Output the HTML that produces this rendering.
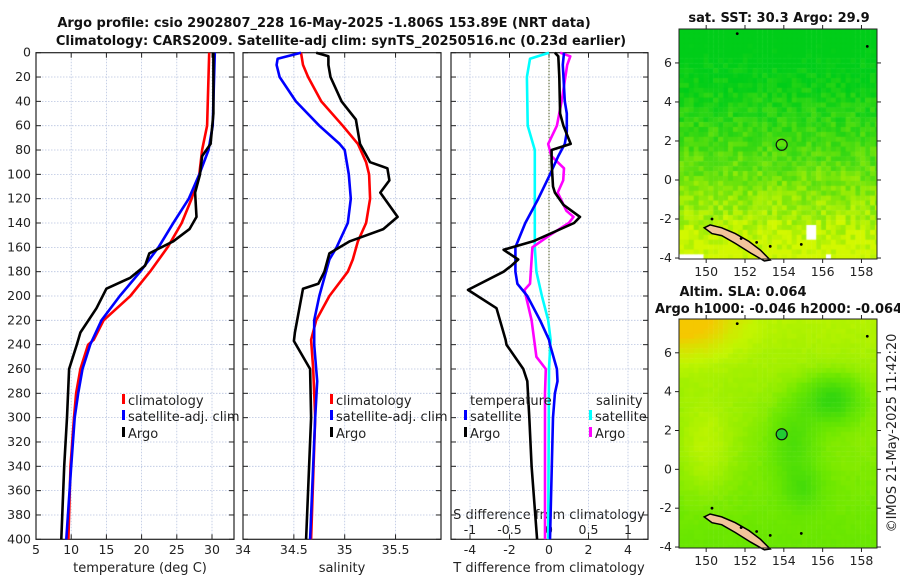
<!DOCTYPE html>
<html><head><meta charset="utf-8">
<style>
html,body{margin:0;padding:0;background:#fff;}
#wrap{position:relative;width:900px;height:580px;overflow:hidden;font-family:"DejaVu Sans","Liberation Sans",sans-serif;}
canvas{position:absolute;}
svg{position:absolute;left:0;top:0;}
text{font-family:"DejaVu Sans","Liberation Sans",sans-serif;font-size:12.5px;fill:#222;}
.b{font-weight:bold;font-size:13px;fill:#111;}
</style></head>
<body>
<div id="wrap">
<canvas id="sst" width="198" height="230" style="left:679px;top:29px"></canvas>
<canvas id="sla" width="198" height="229" style="left:679px;top:319px"></canvas>
<svg id="svg" width="900" height="580" xmlns="http://www.w3.org/2000/svg">
<text class="b" x="324" y="27" text-anchor="middle">Argo profile: csio 2902807_228 16-May-2025 -1.806S 153.89E (NRT data)</text>
<text class="b" x="341" y="45" text-anchor="middle">Climatology: CARS2009. Satellite-adj clim: synTS_20250516.nc (0.23d earlier)</text>
<text class="b" x="779" y="22" text-anchor="middle">sat. SST: 30.3 Argo: 29.9</text>
<text class="b" x="743" y="296" text-anchor="middle">Altim. SLA: 0.064</text>
<text class="b" x="655" y="313">Argo h1000: -0.046 h2000: -0.064</text>
<text x="0" y="0" transform="translate(896,433) rotate(-90)" text-anchor="middle" style="font-size:13px">©IMOS 21-May-2025 11:42:20</text>
<text x="140" y="572" text-anchor="middle" style="font-size:13px">temperature (deg C)</text>
<text x="342" y="572" text-anchor="middle" style="font-size:13px">salinity</text>
<text x="549" y="572" text-anchor="middle" style="font-size:13px">T difference from climatology</text>
<text x="549" y="519" text-anchor="middle" style="font-size:13px">S difference from climatology</text>
</svg>
</div>
<script>
// ---------- data ----------
const depthTicks=[0,20,40,60,80,100,120,140,160,180,200,220,240,260,280,300,320,340,360,380,400];
const tTicks=[5,10,15,20,25,30];
const sTicks=[34,34.5,35,35.5];
const dTicks=[-4,-2,0,2,4];
const sdTicks=[-1,-0.5,0,0.5,1];
const latTicks=[6,4,2,0,-2,-4];
const lonTicks=[150,152,154,156,158];

const climTDepth=[0,60,80,100,120,140,160,180,200,220,236,240,260,280,300,340,400];
const climT=[29.6,29.3,28.6,28.2,27.1,25.7,23.7,21.2,18.4,14.6,13.2,12.4,11.3,10.7,10.4,9.9,9.6];
const satTDepth=[0,60,80,100,120,140,160,180,200,220,240,260,280,300,340,400];
const satT=[30.4,30.1,29.5,28.2,26.7,24.5,22.4,19.8,16.9,14.3,12.7,11.6,11.0,10.5,10.0,9.3];
const argoTDepth=[0,50,75,85,100,115,135,145,155,165,175,185,194,210,230,240,260,300,340,400];
const argoT=[30.2,30.2,29.8,28.6,28.3,27.6,27.8,26.8,24.5,21.1,20.5,18.4,15.0,13.6,11.3,10.8,9.7,9.4,9.0,8.6];

const climSDepth=[0,10,20,40,60,75,90,100,120,140,155,170,180,200,220,236,260,300,400];
const climS=[34.57,34.59,34.64,34.77,34.98,35.13,35.21,35.24,35.25,35.21,35.13,35.08,35.03,34.85,34.72,34.67,34.69,34.71,34.67];
const satSDepth=[0,5,10,20,40,60,75,80,100,120,140,160,170,200,220,240,270,300,400];
const satS=[34.57,34.34,34.33,34.36,34.52,34.75,34.95,35.0,35.04,35.06,35.03,34.92,34.85,34.75,34.70,34.70,34.73,34.71,34.66];
const argoSDepth=[0,3,10,20,40,55,75,90,95,105,115,135,145,155,165,180,190,194,230,237,260,300,400];
const argoS=[34.72,34.84,34.84,34.86,34.97,35.11,35.15,35.25,35.42,35.44,35.35,35.52,35.38,35.05,34.85,34.80,34.74,34.59,34.51,34.50,34.66,34.67,34.62];

const satSdDepth=[0,5,20,60,80,100,160,180,200,220,236,260,400];
const satSd=[0,-0.24,-0.28,-0.27,-0.18,-0.18,-0.18,-0.16,-0.09,-0.01,0.02,0.0,-0.01];
const argoSdDepth=[0,3,10,40,60,75,85,95,105,115,130,135,140,150,160,170,190,195,220,240,250,260,280,400];
const argoSd=[0.14,0.27,0.23,0.16,0.10,-0.01,0.03,0.19,0.18,0.11,0.22,0.31,0.25,0.01,-0.21,-0.22,-0.24,-0.31,-0.22,-0.18,-0.16,-0.04,-0.05,-0.05];
const satTdDepth=[0,10,40,50,65,75,85,100,120,140,160,180,190,200,220,236,240,260,270,280,300,400];
const satTd=[0.76,0.7,0.8,0.9,0.9,0.8,0.47,0.05,-0.54,-1.2,-1.7,-1.7,-1.6,-1.1,-0.45,0,0.05,0.4,0.43,0.3,0.2,0.05];
const argoTdDepth=[0,3,20,50,60,75,80,90,110,115,125,135,140,155,162,170,175,180,195,210,236,240,260,270,300,340,400];
const argoTd=[0.3,0.47,0.52,0.56,0.73,1.1,0.13,0.13,0.2,0.3,0.73,1.57,1.27,-0.8,-2.3,-1.56,-1.9,-2.3,-4.1,-2.66,-2.2,-2.15,-1.3,-1.1,-1.0,-0.88,-0.6];

const argoLon=[153.89], argoLat=[1.806];
const islandLon=[149.9,150.2,150.8,151.5,152.2,152.8,153.3,153.0,152.3,151.5,150.8,150.3,149.9];
const islandLat=[-2.45,-2.3,-2.45,-2.75,-3.15,-3.6,-4.1,-4.15,-3.75,-3.25,-2.85,-2.75,-2.45];

// ---------- helpers ----------
const NS="http://www.w3.org/2000/svg";
const svg=document.getElementById('svg');
function el(tag,attrs,parent){const e=document.createElementNS(NS,tag);for(const k in attrs)e.setAttribute(k,attrs[k]);(parent||svg).appendChild(e);return e;}
const Y0=52.7,Y1=539.3;
const yD=d=>Y0+(Y1-Y0)*d/400;
function mkX(a,b,px0,px1){return v=>px0+(v-a)/(b-a)*(px1-px0);}
const xT=mkX(5,30,36,212);
const xS=mkX(34,35,243,344.7);
const xD=mkX(0,4,549,628);
const xSD=mkX(0,1,549,628);

function panel(name,x0,x1,vTicks,xf,labels,fmt){
  const g=el('g',{});
  
  
  depthTicks.forEach(d=>{if(d>0&&d<400){const l=el('line',{x1:x0,x2:x1,y1:yD(d),y2:yD(d),stroke:'#b8c4e0','stroke-width':0.8,'stroke-dasharray':'1.5,1.5'},g);
    }
    el('line',{x1:x0,x2:x0+5,y1:yD(d),y2:yD(d),stroke:'#222','stroke-width':1},g);
    el('line',{x1:x1-5,x2:x1,y1:yD(d),y2:yD(d),stroke:'#222','stroke-width':1},g);});
  vTicks.forEach(v=>{const x=xf(v);if(x>x0+1&&x<x1-1){const l=el('line',{x1:x,x2:x,y1:Y0,y2:Y1,stroke:'#b8c4e0','stroke-width':0.8,'stroke-dasharray':'1.5,1.5'},g);
    }
    if(x>=x0-1&&x<=x1+1){el('line',{x1:x,x2:x,y1:Y0,y2:Y0+5,stroke:'#222'},g);el('line',{x1:x,x2:x,y1:Y1-5,y2:Y1,stroke:'#222'},g);}
    if(labels){const t=el('text',{x:x,y:554,'text-anchor':'middle'},g);t.textContent=fmt?fmt(v):v;
      }});
  const r=el('rect',{x:x0,y:Y0,width:x1-x0,height:Y1-Y0,fill:'none',stroke:'#222','stroke-width':1.2},g);
  
  return g;
}
const p1=panel('temperature-panel',36,234,tTicks,xT,true);
const p2=panel('salinity-panel',243,441,sTicks,xS,true);
const p3=panel('difference-panel',451,648,dTicks,xD,true);
depthTicks.forEach(d=>{const t=el('text',{x:31,y:yD(d)+4,'text-anchor':'end'});t.textContent=d;
  });
sdTicks.forEach(v=>{const t=el('text',{x:xSD(v),y:534,'text-anchor':'middle'},p3);t.textContent=v;
  });
const z=el('line',{x1:xD(0),x2:xD(0),y1:Y0,y2:Y1,stroke:'#4a5a20','stroke-width':1,'stroke-dasharray':'1.5,1.5'},p3);


function series(g,name,depths,vals,xf,color){
  const pts=depths.map((d,i)=>xf(vals[i]).toFixed(1)+','+yD(d).toFixed(1)).join(' ');
  const p=el('polyline',{points:pts,fill:'none',stroke:color,'stroke-width':2.6,'stroke-linejoin':'round'},g);
  
}
series(p1,'climatology-temperature-line',climTDepth,climT,xT,'#ff0000');
series(p1,'satellite-temperature-line',satTDepth,satT,xT,'#0000ff');
series(p1,'argo-temperature-line',argoTDepth,argoT,xT,'#000000');
series(p2,'climatology-salinity-line',climSDepth,climS,xS,'#ff0000');
series(p2,'satellite-salinity-line',satSDepth,satS,xS,'#0000ff');
series(p2,'argo-salinity-line',argoSDepth,argoS,xS,'#000000');
series(p3,'satellite-s-diff-line',satSdDepth,satSd,xSD,'#00ffff');
series(p3,'argo-s-diff-line',argoSdDepth,argoSd,xSD,'#ff00ff');
series(p3,'satellite-t-diff-line',satTdDepth,satTd,xD,'#0000ff');
series(p3,'argo-t-diff-line',argoTdDepth,argoTd,xD,'#000000');

function legendEntry(x,y,color,label,name){
  const g=el('g',{});
  
  el('rect',{x:x,y:y-11,width:3,height:10,fill:color},g);
  const t=el('text',{x:x+6,y:y,style:'font-size:13px'},g);t.textContent=label;
}
legendEntry(122,405,'#ff0000','climatology','legend-climatology-t');
legendEntry(122,421,'#0000ff','satellite-adj. clim','legend-satellite-t');
legendEntry(122,438,'#000000','Argo','legend-argo-t');
legendEntry(330,405,'#ff0000','climatology','legend-climatology-s');
legendEntry(330,421,'#0000ff','satellite-adj. clim','legend-satellite-s');
legendEntry(330,438,'#000000','Argo','legend-argo-s');
(function(){const t=el('text',{x:470,y:405,style:'font-size:13px'});t.textContent='temperature';
 
 const s=el('text',{x:596,y:405,style:'font-size:13px'});s.textContent='salinity';
 })();
legendEntry(464,421,'#0000ff','satellite','legend-satellite-tdiff');
legendEntry(464,438,'#000000','Argo','legend-argo-tdiff');
legendEntry(589,421,'#00ffff','satellite','legend-satellite-sdiff');
legendEntry(589,438,'#ff00ff','Argo','legend-argo-sdiff');

// ---------- maps ----------
function hash(i,j){let h=(i*374761393+j*668265263)|0;h=(h^(h>>>13))*1274126177|0;return ((h^(h>>>16))>>>0)/4294967296;}
const LON0=148.6,LON1=158.8,LAT0=7.74,LAT1=-4.05;
function drawMap(id,w,h,fn,cell){
  const c=document.getElementById(id).getContext('2d');
  for(let j=0;j*cell<h;j++)for(let i=0;i*cell<w;i++){
    const lon=LON0+(i+0.5)*cell/w*(LON1-LON0), lat=LAT0+(j+0.5)*cell/h*(LAT1-LAT0);
    c.fillStyle=fn(lon,lat,hash(i,j));c.fillRect(i*cell,j*cell,cell+0.5,cell+0.5);}
}
function mix(a,b,t){t=Math.max(0,Math.min(1,t));return a.map((v,k)=>Math.round(v+(b[k]-v)*t));}
drawMap('sst',198,230,(lon,lat,r)=>{
  let t=(6.0-lat)/9.5+(r-0.5)*0.3;
  if(lat<-3.85&&(lon<149.8||(lon>156.2&&lon<156.5)))return '#ffffff';
  if(lat<-2.2&&lat>-3&&lon>155.1&&lon<155.6)return '#ffffff';
  const c=mix([0,205,25],[210,248,0],Math.pow(Math.max(0,t),1.3));return 'rgb('+c+')';},4.9);
drawMap('sla',198,229,(lon,lat,r)=>{
  let v=0.55+(lat-0)*0.02;
  v+=0.5*Math.exp(-((lon-148.8)**2/6+(lat-7.8)**2/3));
  v-=0.45*Math.exp(-((lon-156.5)**2/2.2+(lat-3.6)**2/1.4));
  v-=0.25*Math.exp(-((lon-154.5)**2/1.5+(lat-1.5)**2/4));
  v-=0.2*Math.exp(-((lon-155)**2/1+(lat+1)**2/1.2));
  v+=0.15*Math.exp(-((lon-150)**2/2+(lat-1)**2/6));
  v+=(r-0.5)*0.03;
  let c;
  if(v<0.5)c=mix([20,205,20],[110,232,0],v/0.5);
  else if(v<0.75)c=mix([110,232,0],[195,245,0],(v-0.5)/0.25);
  else c=mix([195,245,0],[245,200,0],(v-0.75)/0.3);
  return 'rgb('+c+')';},4.9);

function mapAxes(name,top,bottom){
  const g=el('g',{});
  
  const xl=mkX(LON0,LON1,679,877), yl=mkX(LAT0,LAT1,top,bottom);
  const X=i=>xl(islandLon[i]),Yl=i=>yl(islandLat[i]);
  const isl=el('polygon',{points:islandLon.map((v,i)=>X(i).toFixed(1)+','+Yl(i).toFixed(1)).join(' '),fill:'#f2c49a',stroke:'#000','stroke-width':1.5},g);
  
  [[150.3,-2.0],[151.8,-3.0],[152.6,-3.2],[154.9,-3.3],[153.3,-3.4],[158.3,6.85],[151.6,7.5]].forEach(p=>{
    el('circle',{cx:xl(p[0]),cy:yl(p[1]),r:1.4,fill:'#000'},g);});
  const a=el('circle',{cx:xl(argoLon[0]),cy:yl(argoLat[0]),r:5.5,fill:name==='sla-map-axes'?'#22cc33':'none',stroke:'#111','stroke-width':1.2},g);
  
  latTicks.forEach(v=>{const y=yl(v);el('line',{x1:679,x2:675,y1:y,y2:y,stroke:'#222'},g);el('line',{x1:877,x2:881,y1:y,y2:y,stroke:'#222'},g);
    const t=el('text',{x:672,y:y+4,'text-anchor':'end'},g);t.textContent=v;
    });
  lonTicks.forEach(v=>{const x=xl(v);el('line',{x1:x,x2:x,y1:bottom,y2:bottom+4,stroke:'#222'},g);el('line',{x1:x,x2:x,y1:top,y2:top-4,stroke:'#222'},g);
    const t=el('text',{x:x,y:bottom+17,'text-anchor':'middle'},g);t.textContent=v;
    });
  el('rect',{x:679,y:top,width:198,height:bottom-top,fill:'none',stroke:'#222','stroke-width':1},g);
}
mapAxes('sst-map-axes',29,259);
mapAxes('sla-map-axes',319,548);
</script>
</body></html>
